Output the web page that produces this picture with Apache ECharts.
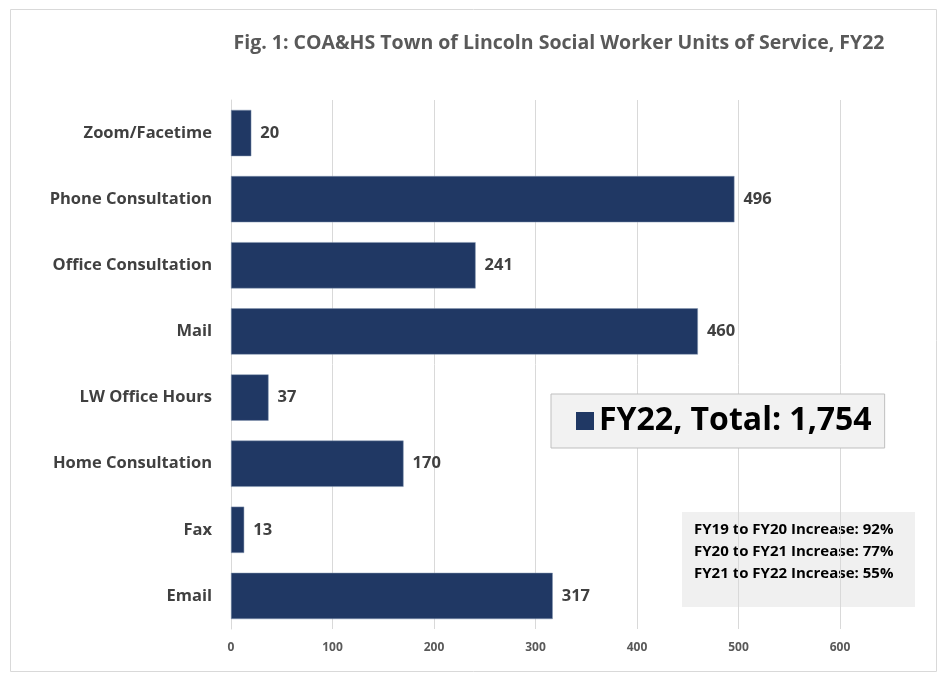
<!DOCTYPE html>
<html>
<head>
<meta charset="utf-8">
<script src="https://cdn.jsdelivr.net/npm/echarts@6/dist/echarts.min.js"></script>
<style>
  html, body { margin: 0; padding: 0; background: #fff; }
  #chart { width: 943px; height: 675px; }
</style>
</head>
<body>
<div id="chart"></div>
<script>
// categories from top to bottom as in the picture
const categories = ["Zoom/Facetime", "Phone Consultation", "Office Consultation", "Mail",
  "LW Office Hours", "Home Consultation", "Fax", "Email"];
const unitsFY22 = [20, 496, 241, 460, 37, 170, 13, 317];
const seriesName = "FY22, Total: 1,754";
const notes = ["FY19 to FY20 Increase: 92%", "FY20 to FY21 Increase: 77%", "FY21 to FY22 Increase: 55%"];

const fontFamily = "'Open Sans', 'Noto Sans', sans-serif";
const chart = echarts.init(document.getElementById("chart"));

const option = {
  animation: false,
  textStyle: { fontFamily: fontFamily },
  title: {
    text: "Fig. 1: COA&HS Town of Lincoln Social Worker Units of Service, FY22",
    left: 554,
    textAlign: "center",
    top: 28,
    textStyle: { fontSize: 19.5, fontWeight: "bold", color: "#595959", fontFamily: fontFamily }
  },
  legend: {
    left: 551,
    top: 394,
    padding: [11, 13, 11, 25],
    backgroundColor: "#f2f2f2",
    borderColor: "#bfbfbf",
    borderWidth: 1,
    itemWidth: 18,
    itemHeight: 18,
    icon: "rect",
    itemGap: 10,
    itemStyle: { borderWidth: 0 },
    textStyle: { fontSize: 32, fontWeight: "bold", color: "#000", fontFamily: fontFamily }
  },
  grid: { left: 231, right: 103, top: 100, bottom: 46 },
  xAxis: {
    type: "value",
    min: 0,
    max: 600,
    interval: 100,
    axisLine: { show: false },
    axisTick: { show: false },
    axisLabel: { fontSize: 12, fontWeight: "bold", color: "#595959", margin: 13 },
    splitLine: { lineStyle: { color: "#d9d9d9" } }
  },
  yAxis: {
    type: "category",
    data: categories,
    inverse: true,
    axisLine: { lineStyle: { color: "#d9d9d9" } },
    axisTick: { show: false },
    axisLabel: { fontSize: 16.5, fontWeight: "bold", color: "#404040", margin: 19 }
  },
  series: [{
    name: seriesName,
    type: "bar",
    data: unitsFY22,
    barCategoryGap: "30%",
    itemStyle: { color: "#203864", borderColor: "#8497b0", borderWidth: 0.5 },
    label: {
      show: true,
      position: "right",
      distance: 9,
      fontSize: 16.5,
      fontWeight: "bold",
      color: "#404040"
    }
  }],
  graphic: [
    {
      type: "rect",
      left: 8, top: 7,
      shape: { width: 926, height: 662 },
      style: { fill: "none", stroke: "#d9d9d9", lineWidth: 1 },
      silent: true
    },
    {
      type: "group",
      left: 682, top: 512,
      children: [
        { type: "rect", shape: { width: 233, height: 95 }, style: { fill: "#f0f0f0" } },
        {
          type: "text", left: 12, top: 7,
          style: {
            text: notes.join("\n"),
            fill: "#000",
            font: "bold 15px " + fontFamily,
            lineHeight: 22
          }
        }
      ]
    }
  ]
};
chart.setOption(option);
</script>
</body>
</html>
